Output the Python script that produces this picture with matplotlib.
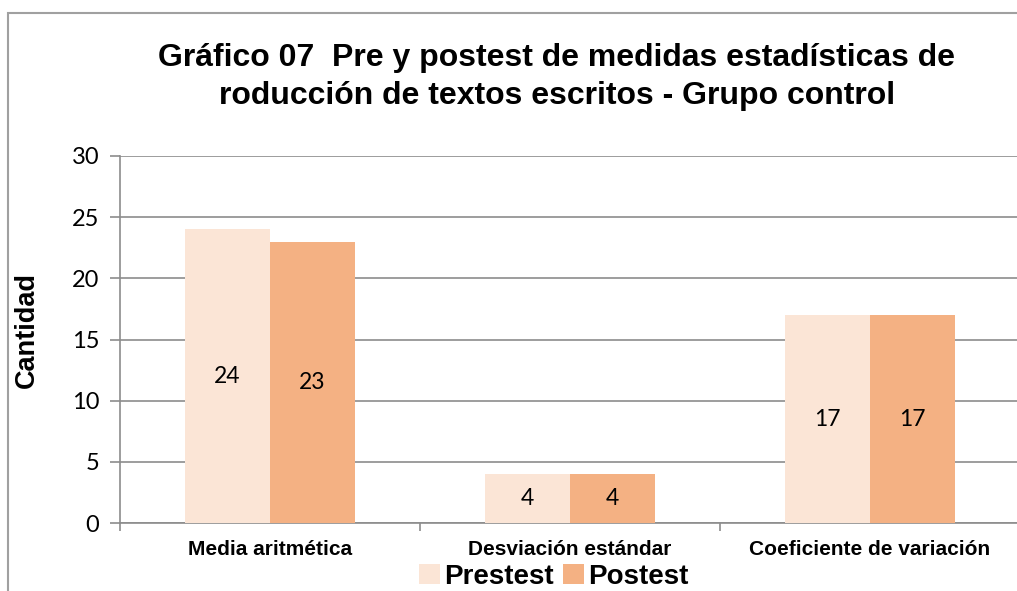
import matplotlib.pyplot as plt
import numpy as np
from matplotlib.patches import Rectangle, Patch

categories = ["Media aritmética", "Desviación estándar", "Coeficiente de variación"]
prestest = [24, 4, 17]
postest = [23, 4, 17]
series_names = ["Prestest", "Postest"]
yticks = [0, 5, 10, 15, 20, 25, 30]

PRE_COLOR = "#FBE5D6"
POST_COLOR = "#F4B183"
GRID = "#8C8C8C"

W, H = 1017, 591
fig = plt.figure(figsize=(W / 100, H / 100), dpi=100)

# outer chart frame (cut off at right / bottom like the reference)
fig.patches.append(Rectangle((8 / W, -0.1), 1.2, 1 - 13 / H + 0.1, transform=fig.transFigure,
                             fill=False, edgecolor="#A0A0A0", linewidth=1.5))

# plot area in pixels: x 120..1020, y 156..523
ax = fig.add_axes([120 / W, 1 - 523 / H, 900 / W, (523 - 156) / H])
x = np.arange(len(categories))
bw = 0.283
b1 = ax.bar(x - bw / 2, prestest, bw, color=PRE_COLOR, zorder=3)
b2 = ax.bar(x + bw / 2, postest, bw, color=POST_COLOR, zorder=3)

for bars in (b1, b2):
    for rect in bars:
        h = rect.get_height()
        ax.text(rect.get_x() + rect.get_width() / 2, h / 2, f"{h:g}", ha="center", va="center",
                fontsize=16.5, family="Lato", color="black", zorder=4)

ax.set_xlim(-0.5, 2.5)
ax.set_ylim(0, 30)
ax.set_yticks(yticks)
ax.set_yticklabels([str(v) for v in yticks], family="Lato", fontsize=17)
ax.yaxis.grid(True, color=GRID, linewidth=1.2, zorder=0)
ax.set_axisbelow(True)

ax.set_xticks(x)
ax.set_xticklabels(categories, family="Liberation Sans", fontweight="bold", fontsize=15)
ax.tick_params(axis="x", length=0, pad=12)
ax.set_xticks([-0.5, 0.5, 1.5, 2.5], minor=True)
ax.tick_params(axis="x", which="minor", length=6, color=GRID, width=1.2)
ax.tick_params(axis="y", length=7, color=GRID, width=1.2, pad=8)

for s in ("top", "right"):
    ax.spines[s].set_visible(False)
for s in ("left", "bottom"):
    ax.spines[s].set_color(GRID)
    ax.spines[s].set_linewidth(1.2)

ax.set_ylabel("Cantidad", family="Liberation Sans", fontweight="bold", fontsize=19.5)
ax.yaxis.set_label_coords(-80 / 900, 0.525)

fig.text(557 / W, 1 - 77 / H,
         "Gráfico 07  Pre y postest de medidas estadísticas de\nroducción de textos escritos - Grupo control",
         ha="center", va="center", family="Liberation Sans", fontweight="bold", fontsize=23,
         linespacing=1.32)

handles = [Patch(facecolor=PRE_COLOR), Patch(facecolor=POST_COLOR)]
fig.legend(handles, series_names, loc="center", bbox_to_anchor=(554 / W, 1 - 577 / H), ncol=2,
           frameon=False, prop={"family": "Liberation Sans", "weight": "bold", "size": 20},
           handlelength=0.75, handleheight=0.75, handletextpad=0.15, columnspacing=0.35,
           borderpad=0, borderaxespad=0)

fig.savefig("out.png", dpi=100)
